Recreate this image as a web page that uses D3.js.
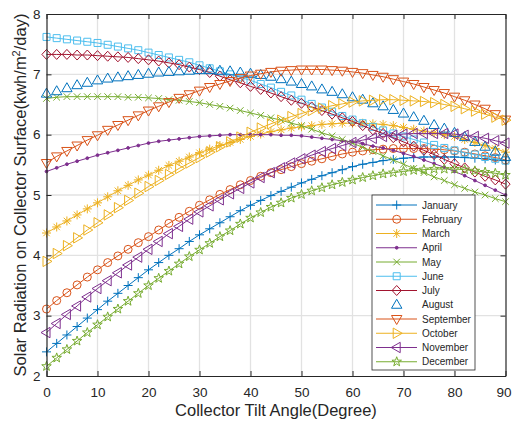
<!DOCTYPE html>
<html>
<head>
<meta charset="utf-8">
<script src="https://cdn.jsdelivr.net/npm/d3@7"></script>
<style>
  body { margin: 0; background: #fff; }
  text { font-family: "Liberation Sans", Arial, sans-serif; fill: #262626; }
</style>
</head>
<body>
<div id="chart"></div>
<script>
// tilt angles (degrees) where the values were sampled
const angles = [0,2,4,6,8,10,12,14,16,18,20,22,24,26,28,30,32,34,36,38,40,42,44,46,48,50,
    52,54,56,58,60,62,64,66,68,70,72,74,76,78,80,82,84,86,88,90]
const xTicks = [0,10,20,30,40,50,60,70,80,90]
const yTicks = [2,3,4,5,6,7,8]

const months = ["January","February","March","April","May","June","July",
    "August","September","October","November","December"]

// monthly solar radiation (kwh/m2/day)
const janValues = [2.40,2.54,2.68,2.82,2.96,3.10,3.24,3.37,3.50,3.63,3.76,3.88,4.00,4.11,4.23,4.34,
    4.44,4.54,4.64,4.74,4.83,4.91,4.99,5.06,5.13,5.20,5.26,5.32,5.37,5.42,5.47,5.51,5.54,5.57,5.59,5.61,
    5.62,5.63,5.63,5.63,5.63,5.62,5.61,5.60,5.58,5.57]
const febValues = [3.11,3.25,3.38,3.51,3.64,3.76,3.88,3.99,4.10,4.21,4.31,4.42,4.53,4.63,4.73,4.83,
    4.92,5.01,5.09,5.17,5.24,5.31,5.37,5.42,5.47,5.52,5.56,5.60,5.64,5.68,5.71,5.73,5.75,5.76,5.77,5.77,
    5.77,5.77,5.76,5.75,5.73,5.71,5.68,5.65,5.62,5.58]
const marValues = [4.37,4.47,4.57,4.67,4.77,4.87,4.97,5.07,5.16,5.25,5.33,5.41,5.49,5.56,5.63,5.70,
    5.76,5.82,5.87,5.92,5.97,6.01,6.05,6.08,6.11,6.13,6.15,6.17,6.18,6.19,6.19,6.19,6.18,6.17,6.15,6.12,
    6.09,6.06,6.03,6.00,5.97,5.92,5.87,5.82,5.77,5.71]
const aprValues = [5.39,5.45,5.51,5.56,5.61,5.66,5.70,5.74,5.78,5.82,5.86,5.89,5.91,5.93,5.95,5.97,
    5.98,5.99,6.00,6.00,6.00,6.00,6.00,5.99,5.99,5.98,5.96,5.94,5.92,5.90,5.88,5.85,5.81,5.78,5.74,5.69,
    5.64,5.58,5.52,5.46,5.39,5.32,5.24,5.16,5.08,5.00]
const mayValues = [6.60,6.62,6.63,6.63,6.63,6.63,6.63,6.63,6.62,6.62,6.61,6.60,6.58,6.57,6.55,6.53,
    6.50,6.47,6.44,6.40,6.36,6.32,6.28,6.24,6.19,6.15,6.09,6.03,5.98,5.92,5.86,5.79,5.72,5.65,5.58,5.51,
    5.44,5.37,5.30,5.24,5.17,5.11,5.05,5.00,4.94,4.89]
const junValues = [7.62,7.60,7.58,7.56,7.54,7.52,7.49,7.46,7.43,7.40,7.36,7.32,7.28,7.24,7.20,7.15,
    7.10,7.05,7.00,6.95,6.90,6.84,6.78,6.71,6.65,6.58,6.51,6.45,6.38,6.31,6.25,6.19,6.13,6.07,6.02,5.97,
    5.92,5.87,5.83,5.78,5.74,5.70,5.67,5.63,5.60,5.57]
const julValues = [7.33,7.33,7.33,7.32,7.32,7.31,7.30,7.29,7.28,7.26,7.24,7.22,7.19,7.16,7.12,7.08,
    7.03,6.97,6.91,6.86,6.80,6.75,6.69,6.63,6.57,6.52,6.46,6.40,6.34,6.28,6.22,6.15,6.08,6.02,5.95,5.88,
    5.81,5.74,5.67,5.59,5.52,5.45,5.38,5.31,5.25,5.18]
const augValues = [6.68,6.72,6.77,6.82,6.86,6.90,6.93,6.95,6.97,6.99,7.01,7.03,7.04,7.05,7.06,7.07,
    7.07,7.06,7.05,7.03,7.01,6.99,6.96,6.92,6.88,6.84,6.80,6.75,6.71,6.67,6.62,6.58,6.52,6.47,6.41,6.35,
    6.29,6.23,6.16,6.10,6.03,5.96,5.88,5.80,5.72,5.63]
const sepValues = [5.53,5.64,5.73,5.82,5.91,5.99,6.08,6.16,6.24,6.32,6.40,6.47,6.54,6.61,6.67,6.73,
    6.79,6.84,6.89,6.94,6.98,7.01,7.04,7.06,7.07,7.08,7.08,7.08,7.07,7.06,7.04,7.02,6.99,6.96,6.92,6.88,
    6.84,6.79,6.74,6.69,6.63,6.57,6.50,6.43,6.34,6.25]
const octValues = [3.90,4.03,4.16,4.29,4.42,4.54,4.67,4.79,4.91,5.03,5.14,5.24,5.34,5.44,5.53,5.62,
    5.71,5.80,5.88,5.96,6.04,6.11,6.18,6.24,6.30,6.35,6.40,6.44,6.48,6.51,6.54,6.56,6.57,6.58,6.58,6.57,
    6.56,6.55,6.53,6.50,6.47,6.43,6.39,6.34,6.29,6.24]
const novValues = [2.72,2.87,3.02,3.16,3.31,3.45,3.58,3.71,3.84,3.97,4.10,4.23,4.36,4.48,4.60,4.72,
    4.82,4.92,5.02,5.11,5.20,5.29,5.37,5.45,5.53,5.60,5.66,5.72,5.77,5.82,5.87,5.91,5.94,5.97,5.99,6.01,
    6.02,6.02,6.02,6.02,6.01,5.99,5.97,5.94,5.90,5.86]
const decValues = [2.16,2.30,2.44,2.58,2.72,2.85,2.98,3.11,3.24,3.37,3.50,3.62,3.74,3.86,3.98,4.09,
    4.20,4.31,4.41,4.52,4.62,4.71,4.80,4.87,4.95,5.01,5.07,5.12,5.17,5.21,5.25,5.29,5.32,5.35,5.37,5.39,
    5.41,5.42,5.43,5.43,5.43,5.42,5.40,5.38,5.36,5.33]

const allValues = [janValues, febValues, marValues, aprValues, mayValues, junValues,
    julValues, augValues, sepValues, octValues, novValues, decValues]

// matlab-ish styling for each month
const colors = ["#0072BD","#D95319","#EDB120","#7E2F8E","#77AC30","#4DBEEE","#A2142F",
    "#0072BD","#D95319","#EDB120","#7E2F8E","#77AC30"]
const markers = ["plus","circle","asterisk","point","cross","square","diamond",
    "triUp","triDown","triRight","triLeft","star"]
const hasLine = [true,true,true,true,true,true,true,false,true,true,true,true]

const series = months.map(function (m, i) {
    return { name: m, color: colors[i], marker: markers[i], line: hasLine[i],
        points: angles.map(function (a, j) { return { angle: a, value: allValues[i][j] } }) }
})

// setup the dimensions
const margin = { top: 14, right: 6.5, bottom: 48, left: 46.5 }
const width = 512 - margin.left - margin.right
const height = 424 - margin.top - margin.bottom

const svg = d3.select("#chart").append("svg")
    .attr("width", 512)
    .attr("height", 424)
const chart = svg.append("g")
    .attr("transform", "translate(" + margin.left + "," + margin.top + ")")

const x = d3.scaleLinear().domain([0, 90]).range([0, width])
const y = d3.scaleLinear().domain([2, 8]).range([height, 0])

// grid lines
chart.selectAll("line.vgrid")
    .data(xTicks.slice(1, -1))
    .enter().append("line")
    .attr("class", "vgrid")
    .attr("x1", d => x(d)).attr("x2", d => x(d))
    .attr("y1", 0).attr("y2", height)
    .style("stroke", "#e2e2e2").style("stroke-width", 1.3)
chart.selectAll("line.hgrid")
    .data(yTicks.slice(1, -1))
    .enter().append("line")
    .attr("class", "hgrid")
    .attr("x1", 0).attr("x2", width)
    .attr("y1", d => y(d)).attr("y2", d => y(d))
    .style("stroke", "#e2e2e2").style("stroke-width", 1.3)

// marker shapes, centred on 0,0
function markerPath(type) {
    const r = 4.5
    switch (type) {
        case "plus": return "M" + (-r) + ",0H" + r + "M0," + (-r) + "V" + r
        case "circle": { const c = 4; return "M" + c + ",0A" + c + "," + c + " 0 1,1 " + (-c) + ",0A" + c + "," + c + " 0 1,1 " + c + ",0Z" }
        case "asterisk": { const a = 3.2; return "M" + (-r) + ",0H" + r + "M0," + (-r) + "V" + r +
            "M" + (-a) + "," + (-a) + "L" + a + "," + a + "M" + (-a) + "," + a + "L" + a + "," + (-a) }
        case "point": return "M1.4,0A1.4,1.4 0 1,1 -1.4,0A1.4,1.4 0 1,1 1.4,0Z"
        case "cross": { const a = 3.3; return "M" + (-a) + "," + (-a) + "L" + a + "," + a + "M" + (-a) + "," + a + "L" + a + "," + (-a) }
        case "square": { const s = 3.5; return "M" + (-s) + "," + (-s) + "H" + s + "V" + s + "H" + (-s) + "Z" }
        case "diamond": return "M0,-5L4.6,0L0,5L-4.6,0Z"
        case "triUp": return "M0,-5.5L5.2,3.5L-5.2,3.5Z"
        case "triDown": return "M0,5.5L5.2,-3.5L-5.2,-3.5Z"
        case "triRight": return "M5.5,0L-3.5,5.2L-3.5,-5.2Z"
        case "triLeft": return "M-5.5,0L3.5,5.2L3.5,-5.2Z"
        case "star": {
            let p = ""
            for (let k = 0; k < 10; k++) {
                const rad = k % 2 === 0 ? 5 : 2
                const ang = -Math.PI / 2 + k * Math.PI / 5
                p += (k === 0 ? "M" : "L") + (rad * Math.cos(ang)).toFixed(2) + "," + (rad * Math.sin(ang)).toFixed(2)
            }
            return p + "Z"
        }
    }
}

const line = d3.line()
    .x(d => x(d.angle))
    .y(d => y(d.value))

// draw each month: line then markers
series.forEach(function (s) {
    const g = chart.append("g").attr("class", "series")
    if (s.line) {
        g.append("path")
            .datum(s.points)
            .attr("d", line)
            .style("fill", "none")
            .style("stroke", s.color)
            .style("stroke-width", 1)
    }
    g.selectAll("path.mark")
        .data(s.points)
        .enter().append("path")
        .attr("class", "mark")
        .attr("transform", d => "translate(" + x(d.angle) + "," + y(d.value) + ")")
        .attr("d", markerPath(s.marker))
        .style("fill", s.marker === "point" ? s.color : "none")
        .style("stroke", s.color)
        .style("stroke-width", 1)
})

// axes with inward ticks on all four sides
const xAxis = d3.axisBottom(x).tickValues(xTicks).tickFormat(d3.format("d"))
    .tickSizeInner(-5).tickSizeOuter(0).tickPadding(11)
const yAxis = d3.axisLeft(y).tickValues(yTicks).tickFormat(d3.format("d"))
    .tickSizeInner(-5).tickSizeOuter(0).tickPadding(6)

const gx = chart.append("g")
    .attr("transform", "translate(0," + height + ")")
    .call(xAxis)
const gy = chart.append("g").call(yAxis)
const gTop = chart.append("g")
    .call(d3.axisTop(x).tickValues(xTicks).tickSizeInner(-5).tickSizeOuter(0).tickFormat(""))
const gRight = chart.append("g")
    .attr("transform", "translate(" + width + ",0)")
    .call(d3.axisRight(y).tickValues(yTicks).tickSizeInner(-5).tickSizeOuter(0).tickFormat(""))

;[gx, gy, gTop, gRight].forEach(function (g) {
    g.selectAll("path.domain").style("stroke", "#262626").style("stroke-width", 1.2)
    g.selectAll(".tick line").style("stroke", "#262626").style("stroke-width", 1)
    g.selectAll(".tick text").style("font-size", "13.5px").style("fill", "#262626")
        .style("font-family", "\"Liberation Sans\", Arial, sans-serif")
})
// keep the last x label inside the window
gx.selectAll(".tick text").filter(d => d === 90).attr("dx", -2)

// axis titles
svg.append("text")
    .attr("x", margin.left + width / 2)
    .attr("y", 416)
    .attr("text-anchor", "middle")
    .style("font-size", "16.5px")
    .text("Collector Tilt Angle(Degree)")

const yTitle = svg.append("text")
    .attr("transform", "translate(26," + (margin.top + height / 2) + ") rotate(-90)")
    .attr("text-anchor", "middle")
    .style("font-size", "16.5px")
yTitle.append("tspan").text("Solar Radiation on Collector Surface(kwh/m")
yTitle.append("tspan").attr("dy", -6).style("font-size", "11px").text("2")
yTitle.append("tspan").attr("dy", 6).text("/day)")

// legend box
const legend = svg.append("g").attr("class", "legend")
legend.append("rect")
    .attr("x", 372).attr("y", 195)
    .attr("width", 103).attr("height", 175)
    .style("fill", "#fff")
    .style("stroke", "#262626")
    .style("stroke-width", 0.8)

const rows = legend.selectAll("g.row")
    .data(series)
    .enter().append("g")
    .attr("class", "row")
    .attr("transform", (d, i) => "translate(0," + (205 + i * 14.25) + ")")
rows.filter(d => d.line).append("line")
    .attr("x1", 376).attr("x2", 417)
    .style("stroke", d => d.color)
    .style("stroke-width", 1)
rows.append("path")
    .attr("transform", "translate(396.7,0)")
    .attr("d", d => markerPath(d.marker))
    .style("fill", d => d.marker === "point" ? d.color : "none")
    .style("stroke", d => d.color)
    .style("stroke-width", 1)
rows.append("text")
    .attr("x", 422)
    .attr("dy", "0.35em")
    .style("font-size", "10px")
    .text(d => d.name)
</script>
</body>
</html>
